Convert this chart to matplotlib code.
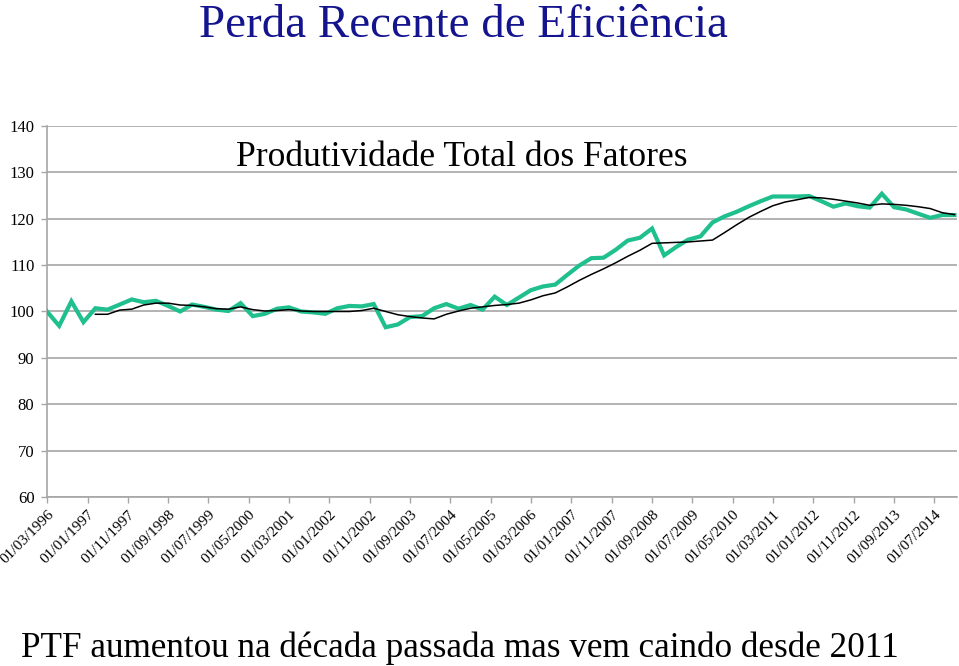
import matplotlib
matplotlib.use("Agg")
import matplotlib.pyplot as plt
import pandas as pd

# Quarterly dates (Mar 1996 .. Dec 2014)
dates = pd.date_range("1996-03-01", periods=76, freq="3MS")

ptf = [100.0, 96.9, 102.2, 97.7, 100.7, 100.4, 101.5, 102.6, 102.0, 102.3,
       101.2, 100.0, 101.5, 101.0, 100.4, 100.1, 101.8, 99.0, 99.5, 100.6,
       100.9, 100.0, 99.8, 99.5, 100.7, 101.2, 101.1, 101.6, 96.6, 97.2,
       98.8, 99.0, 100.7, 101.6, 100.6, 101.4, 100.4, 103.2, 101.4, 103.0,
       104.6, 105.4, 105.8, 107.9, 109.9, 111.5, 111.6, 113.3, 115.3, 115.9,
       117.9, 112.1, 113.9, 115.5, 116.2, 119.2, 120.5, 121.5, 122.7, 123.8,
       124.8, 124.8, 124.8, 124.9, 123.8, 122.6, 123.3, 122.7, 122.4, 125.4,
       122.5, 122.0, 121.1, 120.2, 120.8, 120.8]

# smoothed series (starts at 5th quarter)
ptf_smooth = [None, None, None, None,
              99.4, 99.4, 100.3, 100.5, 101.4, 101.8, 101.8, 101.4, 101.3, 101.0,
              100.6, 100.5, 101.0, 100.4, 100.1, 100.2, 100.4, 100.1, 100.0, 100.0,
              100.0, 100.0, 100.2, 100.7, 100.0, 99.3, 98.9, 98.6, 98.4, 99.4,
              100.1, 100.7, 101.0, 101.3, 101.5, 101.8, 102.5, 103.4, 104.0, 105.3,
              106.7, 108.0, 109.2, 110.5, 111.9, 113.2, 114.7, 114.8, 114.9, 115.0,
              115.2, 115.4, 117.0, 118.7, 120.3, 121.6, 122.8, 123.6, 124.1, 124.6,
              124.5, 124.2, 123.8, 123.4, 122.9, 123.2, 123.1, 122.9, 122.6, 122.2,
              121.3, 120.9]

tick_dates = pd.date_range("1996-03-01", "2014-07-01", freq="10MS")
y_ticks = [60, 70, 80, 90, 100, 110, 120, 130, 140]

title = "Perda Recente de Eficiência"
subtitle = "Produtividade Total dos Fatores"
footer = "PTF aumentou na década passada mas vem caindo desde 2011"

serif = ["Liberation Serif", "DejaVu Serif"]
plt.rcParams["font.family"] = serif

fig = plt.figure(figsize=(9.59, 6.66), dpi=100)
ax = fig.add_axes([0.049, 0.2538, 0.949, 0.557])

s_x = [d for d, v in zip(dates, ptf_smooth) if v is not None]
s_y = [v for v in ptf_smooth if v is not None]

ax.plot(dates, ptf, color="#1fbf8e", lw=3.0, solid_joinstyle="miter", zorder=3)
ax.plot(s_x, s_y, color="black", lw=1.1, zorder=4)

ax.set_ylim(60, 140)
ax.set_yticks(y_ticks)
ax.set_xlim(dates[0], dates[-1] + pd.Timedelta(days=20))
ax.set_xticks(tick_dates)
ax.set_xticklabels([d.strftime("%d/%m/%Y") for d in tick_dates],
                   rotation=45, ha="right", va="top", rotation_mode="anchor",
                   fontsize=11)
for lbl in ax.get_yticklabels():
    lbl.set_fontsize(12)

ax.grid(axis="y", color="#a6a6a6", lw=1.2)
ax.set_axisbelow(True)
for sp in ["top", "right"]:
    ax.spines[sp].set_visible(False)
for sp in ["left", "bottom"]:
    ax.spines[sp].set_color("#a6a6a6")
    ax.spines[sp].set_linewidth(1.2)
ax.tick_params(axis="both", colors="#a6a6a6", length=4, width=1.0, labelcolor="black")
ax.tick_params(axis="x", pad=4)
ax.tick_params(axis="y", pad=5)

fig.text(0.483, 0.962, title, ha="center", va="center", fontsize=33.8, color="#14148f")
ax.text(0.456, 0.916, subtitle, transform=ax.transAxes, ha="center", va="center",
        fontsize=25.6, color="black")
fig.text(0.480, 0.026, footer, ha="center", va="center", fontsize=25.3, color="black")

fig.savefig("out.png", dpi=100)
